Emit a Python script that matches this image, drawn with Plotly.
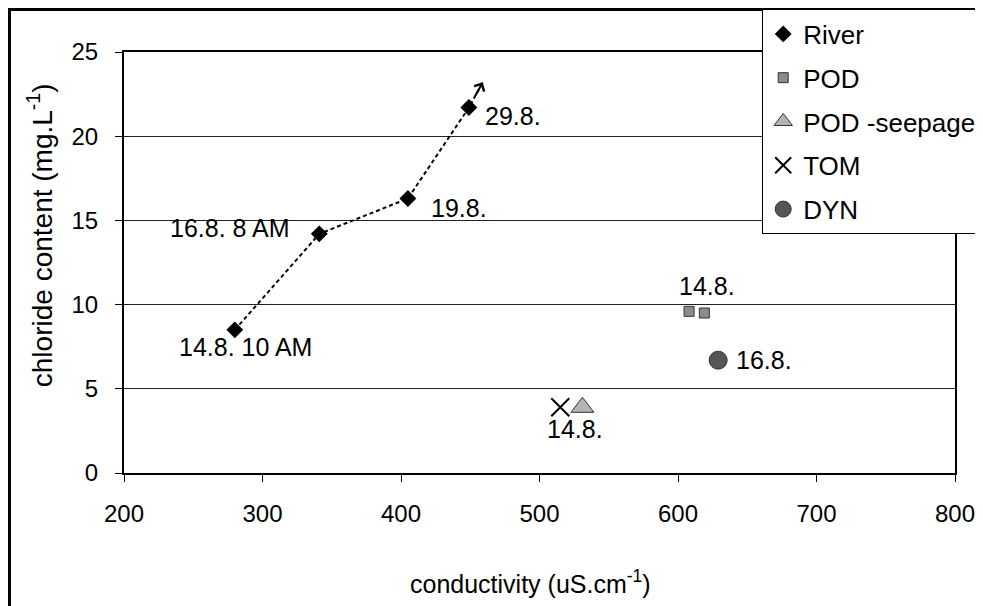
import plotly.graph_objects as go

# River samples (conductivity uS/cm, chloride mg/L)
river_cond = [280, 341, 405, 449]
river_cl = [8.5, 14.2, 16.3, 21.7]
river_dates = ["14.8. 10 AM", "16.8. 8 AM", "19.8.", "29.8."]
# end of the trend arrow
trend_cond = [449, 459]
trend_cl = [21.7, 23.2]

pod_cond = [608, 619]
pod_cl = [9.6, 9.5]
seep_cond = [531]
seep_cl = [3.9]
tom_cond = [515]
tom_cl = [3.9]
dyn_cond = [629]
dyn_cl = [6.7]

FONT = "Liberation Sans, Arial, sans-serif"
DASH = dict(color="black", width=2, dash="4px,3px")

fig = go.Figure()

# dashed trend line through the river samples and on to the arrow tip
fig.add_trace(go.Scatter(x=river_cond + trend_cond[1:], y=river_cl + trend_cl[1:],
                         mode="lines", line=DASH, showlegend=False, hoverinfo="skip"))
# arrow head (most of the solid shaft hidden by a start standoff)
fig.add_annotation(x=trend_cond[1], y=trend_cl[1], ax=trend_cond[0], ay=trend_cl[0],
                   xref="x", yref="y", axref="x", ayref="y", text="",
                   showarrow=True, arrowhead=4, arrowsize=1.1, arrowwidth=2,
                   arrowcolor="black", startstandoff=12)
fig.add_trace(go.Scatter(
    x=river_cond, y=river_cl, name="River", mode="markers", legendgroup="a",
    marker=dict(symbol="diamond", size=13, color="black")))
fig.add_trace(go.Scatter(
    x=pod_cond, y=pod_cl, name="POD", mode="markers", legendgroup="b",
    marker=dict(symbol="square", size=10, color="#8c8c8c", line=dict(color="#333", width=1))))
fig.add_trace(go.Scatter(
    x=seep_cond, y=seep_cl, name="POD -seepage", mode="markers", legendgroup="c",
    marker=dict(symbol="triangle-up", size=20, color="#b4b4b4", line=dict(color="#333", width=1))))
fig.add_trace(go.Scatter(
    x=tom_cond, y=tom_cl, name="TOM", mode="markers", legendgroup="d",
    marker=dict(symbol="x-thin", size=18, color="black", line=dict(color="black", width=2))))
fig.add_trace(go.Scatter(
    x=dyn_cond, y=dyn_cl, name="DYN", mode="markers", legendgroup="e",
    marker=dict(symbol="circle", size=18, color="#555", line=dict(color="#333", width=1))))

# point labels
lab_style = [
    dict(xanchor="center", xshift=11, yshift=-17),
    dict(xanchor="right", xshift=-27, yshift=6),
    dict(xanchor="left", xshift=21, yshift=-9),
    dict(xanchor="left", xshift=14, yshift=-8),
]
for cx, cy, t, st in zip(river_cond, river_cl, river_dates, lab_style):
    fig.add_annotation(x=cx, y=cy, text=t, showarrow=False, yanchor="middle",
                       font=dict(size=25), **st)
fig.add_annotation(x=pod_cond[0], y=pod_cl[0], text="14.8.", showarrow=False,
                   xanchor="center", xshift=18, yshift=25, font=dict(size=25))
fig.add_annotation(x=dyn_cond[0], y=dyn_cl[0], text="16.8.", showarrow=False,
                   xanchor="left", xshift=16, font=dict(size=25))
fig.add_annotation(x=tom_cond[0], y=tom_cl[0], text="14.8.", showarrow=False,
                   xanchor="center", xshift=15, yshift=-22, font=dict(size=25))

# axis titles
fig.add_annotation(xref="paper", yref="paper", x=0.489, y=-0.259, showarrow=False,
                   text="conductivity (uS.cm<sup>-1</sup>)", yanchor="middle",
                   font=dict(size=25))
fig.add_annotation(xref="paper", yref="paper", x=-0.101, y=0.565, showarrow=False,
                   text="chloride content (mg.L<sup>-1</sup>)", textangle=-90,
                   xanchor="center", yanchor="middle", font=dict(size=28))

# outer frame of the chart (top and left edges visible)
fig.add_shape(type="rect", xref="paper", yref="paper", x0=-0.1378, y0=-0.4, x1=1.2, y1=1.101,
              line=dict(color="black", width=3), layer="above")

# the page adds an 8px body margin, so margins are reduced by 8 on left/top
fig.update_layout(
    width=983, height=606,
    margin=dict(l=116, r=36, t=44, b=141, autoexpand=False),
    paper_bgcolor="white", plot_bgcolor="white",
    font=dict(family=FONT, size=24, color="black"),
    legend=dict(x=0.768, xanchor="left", y=1.101, yanchor="top",
                bgcolor="white", bordercolor="black", borderwidth=1,
                traceorder="grouped", tracegroupgap=7, itemwidth=30,
                font=dict(family=FONT, size=26, color="black")),
)
fig.update_xaxes(range=[200, 800], dtick=100, showgrid=False, zeroline=False,
                 showline=True, linecolor="black", linewidth=2, mirror=True,
                 ticks="outside", ticklen=7, tickcolor="black", ticklabelstandoff=11)
fig.update_yaxes(range=[0, 25], dtick=5, showgrid=True, gridcolor="#222", gridwidth=1,
                 zeroline=False, showline=True, linecolor="black", linewidth=2, mirror=True,
                 ticks="outside", ticklen=7, tickcolor="black", ticklabelstandoff=12)

fig.write_html("out.html")
